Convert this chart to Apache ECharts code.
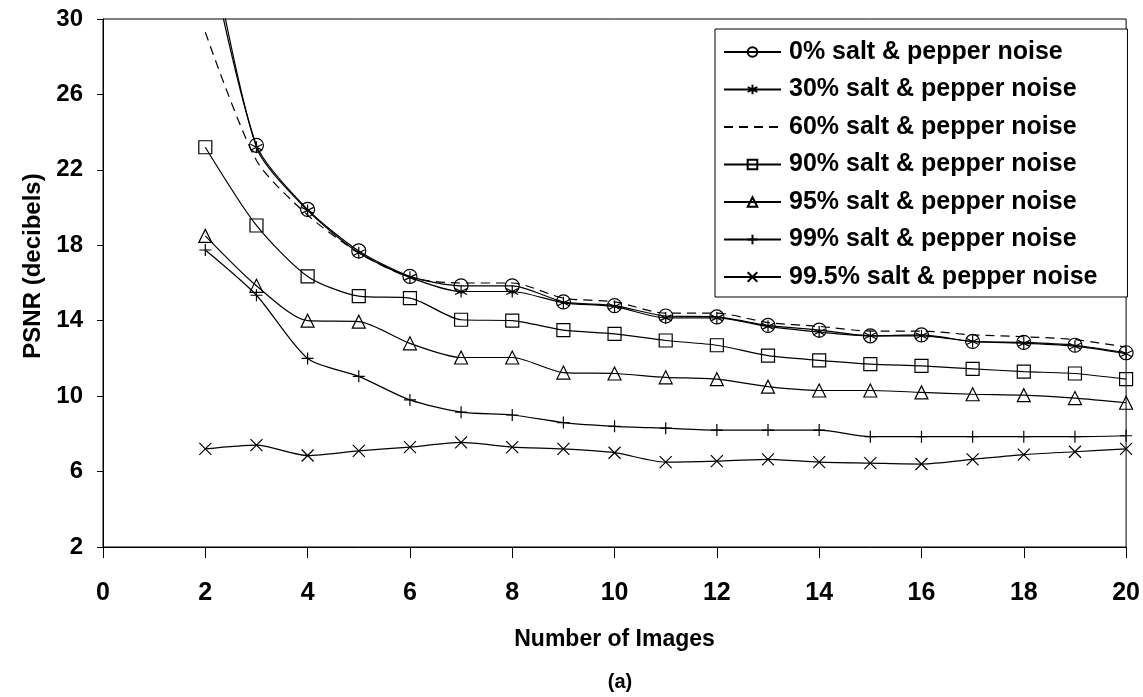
<!DOCTYPE html>
<html lang="en">
<head>
    <meta charset="UTF-8">
    <title>PSNR vs Number of Images</title>
    <script src="https://cdn.jsdelivr.net/npm/echarts@6/dist/echarts.min.js"></script>
    <style>
        html, body { margin: 0; padding: 0; background: #fff; }
        #chart { width: 1143px; height: 697px; }
    </style>
</head>
<body>
<div id="chart"></div>
<script>
    // number of images (x)
    var images = [2, 3, 4, 5, 6, 7, 8, 9, 10, 11, 12, 13, 14, 15, 16, 17, 18, 19, 20];
    // PSNR values, one array per noise level
    var noise0   = [34.5, 23.3, 19.9, 17.7, 16.35, 15.85, 15.85, 15.0, 14.8, 14.25, 14.2, 13.75, 13.5, 13.2, 13.25, 12.9, 12.85, 12.7, 12.3];
    var noise30  = [35.5, 23.2, 19.85, 17.6, 16.3, 15.55, 15.55, 14.95, 14.75, 14.15, 14.15, 13.7, 13.4, 13.2, 13.2, 12.9, 12.8, 12.65, 12.25];
    var noise60  = [29.3, 22.5, 19.6, 17.6, 16.3, 16.0, 16.0, 15.2, 15.0, 14.4, 14.4, 13.9, 13.7, 13.45, 13.45, 13.25, 13.15, 13.0, 12.6];
    var noise90  = [23.2, 19.05, 16.35, 15.3, 15.2, 14.05, 14.0, 13.5, 13.3, 12.95, 12.7, 12.15, 11.9, 11.7, 11.6, 11.45, 11.3, 11.2, 10.9];
    var noise95  = [18.5, 15.85, 14.0, 13.95, 12.8, 12.05, 12.05, 11.25, 11.2, 11.0, 10.9, 10.5, 10.3, 10.3, 10.2, 10.1, 10.05, 9.9, 9.65];
    var noise99  = [17.75, 15.35, 12.0, 11.05, 9.8, 9.15, 9.0, 8.6, 8.4, 8.3, 8.2, 8.2, 8.2, 7.85, 7.85, 7.85, 7.85, 7.85, 7.9];
    var noise995 = [7.2, 7.4, 6.85, 7.1, 7.3, 7.55, 7.3, 7.2, 7.0, 6.5, 6.55, 6.65, 6.5, 6.45, 6.4, 6.65, 6.9, 7.05, 7.2];

    var names = ['0% salt & pepper noise', '30% salt & pepper noise', '60% salt & pepper noise',
        '90% salt & pepper noise', '95% salt & pepper noise', '99% salt & pepper noise', '99.5% salt & pepper noise'];

    var font = '"Liberation Sans", Arial, sans-serif';

    function pairs(arr) {
        return images.map(function (x, i) { return [x, arr[i]]; });
    }

    // hollow marker: line shows through it, like the original
    function line(name, arr, symbol, size) {
        return {
            name: name,
            type: 'line',
            data: pairs(arr),
            smooth: 0.25,
            symbol: symbol,
            symbolSize: size,
            lineStyle: { color: '#000', width: 1.2 },
            itemStyle: { color: 'rgba(0,0,0,0)', borderColor: '#000', borderWidth: 1.2 },
            emphasis: { disabled: true },
            z: 3
        };
    }

    var starPath = 'path://M0,-5L0,5M-4.33,-2.5L4.33,2.5M-4.33,2.5L4.33,-2.5';
    var plusPath = 'path://M0,-5L0,5M-5,0L5,0';
    var crossPath = 'path://M-5,-5L5,5M-5,5L5,-5';

    // dashed series: no markers, and an invisible symbol so the legend shows only the dashes
    var dashed = line(names[2], noise60, 'path://M0,0L2,2', 1);
    dashed.showSymbol = false;
    dashed.lineStyle = { color: '#000', width: 1.2, type: [9, 6] };
    dashed.itemStyle = { color: 'rgba(0,0,0,0)', borderColor: 'rgba(0,0,0,0)', borderWidth: 0 };

    var myChart = echarts.init(document.getElementById('chart'));

    var option = {
        backgroundColor: '#fff',
        animation: false,
        title: {
            text: '(a)',
            left: 615,
            top: 667,
            textAlign: 'center',
            textStyle: { fontFamily: font, fontWeight: 'bold', fontSize: 20, color: '#000' }
        },
        grid: {
            left: 103,
            right: 16,
            top: 19,
            bottom: 150,
            show: true,
            borderColor: '#000',
            borderWidth: 1
        },
        legend: {
            orient: 'vertical',
            left: 715,
            top: 29,
            padding: [10, 30, 7, 8],
            itemWidth: 57,
            itemHeight: 12,
            itemGap: 11.5,
            borderColor: '#000',
            borderWidth: 1,
            backgroundColor: '#fff',
            textStyle: {
                fontFamily: font, fontWeight: 'bold', fontSize: 25, lineHeight: 26,
                color: '#000', padding: [0, 0, 0, 3]
            },
            data: names
        },
        xAxis: {
            type: 'value',
            min: 0,
            max: 20,
            interval: 2,
            name: 'Number of Images',
            nameLocation: 'middle',
            nameGap: 81,
            nameTextStyle: { fontFamily: font, fontWeight: 'bold', fontSize: 23, color: '#000' },
            axisLine: { show: true, lineStyle: { color: '#000', width: 1 } },
            axisTick: { show: true, inside: false, length: 11, lineStyle: { color: '#000' } },
            axisLabel: { margin: 34, fontFamily: font, fontWeight: 'bold', fontSize: 25, color: '#000' },
            splitLine: { show: false }
        },
        yAxis: {
            type: 'value',
            min: 2,
            max: 30,
            interval: 4,
            name: 'PSNR (decibels)',
            nameLocation: 'middle',
            nameGap: 56,
            nameTextStyle: { fontFamily: font, fontWeight: 'bold', fontSize: 24, color: '#000', padding: [0, 0, 0, 34] },
            axisLine: { show: true, lineStyle: { color: '#000', width: 1 } },
            axisTick: { show: true, inside: false, length: 6, lineStyle: { color: '#000' } },
            axisLabel: { margin: 20, fontFamily: font, fontWeight: 'bold', fontSize: 24, color: '#000' },
            splitLine: { show: false }
        },
        series: [
            line(names[0], noise0, 'circle', 14),
            line(names[1], noise30, starPath, 12),
            dashed,
            line(names[3], noise90, 'rect', 13),
            line(names[4], noise95, 'triangle', 13),
            line(names[5], noise99, plusPath, 12),
            line(names[6], noise995, crossPath, 12)
        ]
    };

    myChart.setOption(option);
</script>
</body>
</html>
